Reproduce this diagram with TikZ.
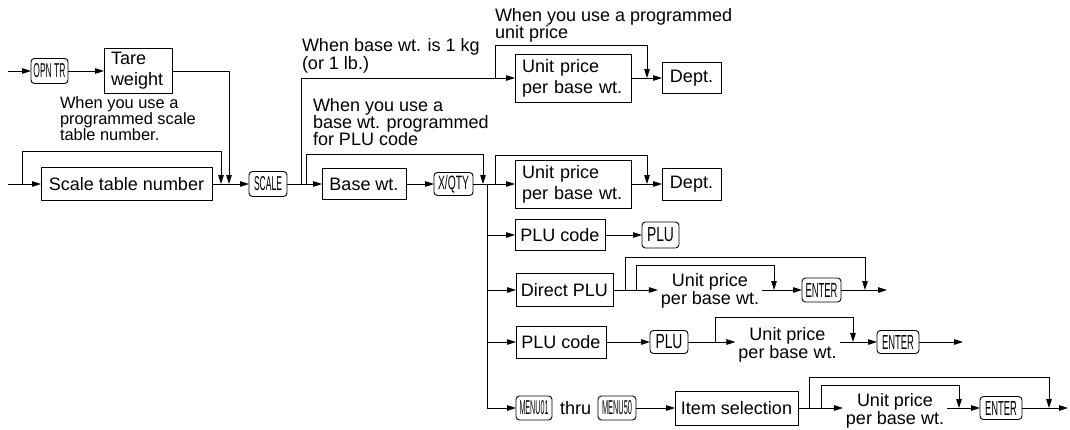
\documentclass[tikz,border=0pt]{standalone}
\usepackage{fontspec}
\usepackage{graphicx}
\setmainfont{Liberation Sans}
\usetikzlibrary{arrows.meta}
\newcommand\kt[2]{\resizebox{#1pt}{14pt}{#2}}
\begin{document}
\begin{tikzpicture}[x=1pt,y=-1pt,
  every node/.style={inner sep=0pt, outer sep=0pt},
  ln/.style={line width=1pt},
  arr/.style={line width=1pt, -{Triangle[length=9pt,width=5.5pt]}},
  box/.style={draw, line width=1pt, font=\fontsize{18}{21}\selectfont},
  mbox/.style={box, align=left, text width=#1, inner xsep=7pt},
  keyb/.style={draw, line width=0.9pt, rounded corners=3.5pt},
  lbl/.style={align=left, anchor=north west, font=\fontsize{18}{17}\selectfont},
  upt/.style={align=center, font=\fontsize{18}{18}\selectfont, inner xsep=3pt},
  plain/.style={font=\fontsize{18}{18}\selectfont}
]
\useasboundingbox (0,0) rectangle (1070,429);

% nodes
\node[keyb, minimum width=37pt, minimum height=25pt] (opn) at (49.5,71) {\kt{32}{OPN TR}};
\node[mbox=54pt, minimum height=45pt] (tare) at (138,71) {Tare\\weight};
\node[box, minimum width=171pt, minimum height=33pt] (stn) at (126.5,184) {Scale table number};
\node[keyb, minimum width=38pt, minimum height=25pt] (scale) at (268,184) {\kt{28}{SCALE}};
\node[box, minimum width=84pt, minimum height=31pt] (basewt) at (364,184) {Base wt.};
\node[keyb, minimum width=39pt, minimum height=23pt] (xqty) at (453.5,184) {\kt{31}{X/QTY}};

\node[mbox=102pt, minimum height=48pt] (up1) at (573,78) {Unit price\\per base wt.};
\node[box, minimum width=59pt, minimum height=31pt] (dept1) at (691.5,78) {Dept.};
\node[mbox=102pt, minimum height=48pt] (up2) at (573,184) {Unit price\\per base wt.};
\node[box, minimum width=59pt, minimum height=32pt] (dept2) at (691.5,184) {Dept.};

\node[box, minimum width=90pt, minimum height=31pt] (plub1) at (560,235) {PLU code};
\node[keyb, minimum width=37pt, minimum height=26pt] (pluk1) at (660.5,235) {\kt{27}{PLU}};

\node[box, minimum width=97pt, minimum height=33pt] (direct) at (564.5,290) {Direct PLU};
\node[upt] (t4) at (710,291) {Unit price\\per base wt.};
\node[keyb, minimum width=39pt, minimum height=24pt] (enter1) at (821.5,290) {\kt{32}{ENTER}};
\coordinate (e4) at (887,290);

\node[box, minimum width=90pt, minimum height=32pt] (plub2) at (561,342) {PLU code};
\node[keyb, minimum width=38pt, minimum height=23pt] (pluk2) at (669,342) {\kt{27}{PLU}};
\node[upt] (t5) at (787.5,344.5) {Unit price\\per base wt.};
\node[keyb, minimum width=42pt, minimum height=23pt] (enter2) at (898,342) {\kt{32}{ENTER}};
\coordinate (e5) at (963,342);

\node[keyb, minimum width=36pt, minimum height=24pt] (m01) at (534,408) {\kt{29}{MENU01}};
\node[plain] (thru) at (575.5,408) {thru};
\node[keyb, minimum width=38pt, minimum height=24pt] (m50) at (617,408) {\kt{30}{MENU50}};
\node[box, minimum width=123pt, minimum height=34pt] (item) at (736.5,408) {Item selection};
\node[upt] (t6) at (895,411) {Unit price\\per base wt.};
\node[keyb, minimum width=42pt, minimum height=23pt] (enter3) at (1001,408) {\kt{32}{ENTER}};
\coordinate (e6) at (1068,408);

% labels
\node[lbl] (a0) at (495,8) {When you use a programmed\\unit price};
\node[lbl, font=\fontsize{18}{18}\selectfont] (a1) at (302,38) {When base wt. is 1 kg\\(or 1 lb.)};
\node[lbl] (a2) at (313,98) {When you use a\\base wt. programmed\\for PLU code};
\node[lbl, font=\fontsize{16.4}{16}\selectfont] (a3) at (60,97) {When you use a\\programmed scale\\table number.};

% connectors
\coordinate (s0) at (8,71);
\draw[arr] (s0) -- (opn.west);
\draw[arr] (opn.east) -- (tare.west);
\coordinate (jt) at (229,184);
\draw[arr] (tare.east) -| (jt);

\coordinate (s1) at (8,184);
\coordinate (l0) at (22,184);
\coordinate (jl) at (221,184);
\draw[arr] (s1) -- (stn.west);
\draw[arr] (l0) -- (22,151) -| (jl);
\draw[arr] (stn.east) -- (scale.west);
\draw[arr] (scale.east) -- (basewt.west);

\coordinate (b1) at (301,184);
\draw[arr] (b1) |- (up1.west);
\coordinate (b2) at (306,184);
\coordinate (jx) at (483,184);
\draw[arr] (b2) -- (306,154) -| (jx);
\draw[arr] (basewt.east) -- (xqty.west);

\coordinate (tr) at (487,184);
\draw[arr] (xqty.east) -- (tr) |- (m01.west);

% row 1
\coordinate (r1) at (495,78);
\coordinate (d1) at (647,78);
\draw[arr] (r1) -- (495,45) -| (d1);
\draw[arr] (up1.east) -- (dept1.west);

% row 2
\draw[arr] (tr) -- (up2.west);
\coordinate (r2) at (495,184);
\coordinate (d2) at (647,184);
\draw[arr] (r2) -- (495,155) -| (d2);
\draw[arr] (up2.east) -- (dept2.west);

% row 3
\draw[arr] (tr |- plub1.west) -- (plub1.west);
\draw[arr] (plub1.east) -- (pluk1.west);

% row 4
\draw[arr] (tr |- direct.west) -- (direct.west);
\draw[arr] (direct.east) -- (direct.east -| t4.west);
\coordinate (r4a) at (625,290);
\coordinate (d4a) at (865,290);
\coordinate (r4b) at (636,290);
\coordinate (d4b) at (774,290);
\draw[arr] (r4a) -- (625,257) -| (d4a);
\draw[arr] (r4b) -- (636,265) -| (d4b);
\draw[arr] (t4.east |- enter1.west) -- (enter1.west);
\draw[arr] (enter1.east) -- (e4);

% row 5
\draw[arr] (tr |- plub2.west) -- (plub2.west);
\draw[arr] (plub2.east) -- (pluk2.west);
\draw[arr] (pluk2.east) -- (pluk2.east -| t5.west);
\coordinate (r5) at (715,342);
\coordinate (d5) at (853,342);
\draw[arr] (r5) -- (715,317) -| (d5);
\draw[arr] (t5.east |- enter2.west) -- (enter2.west);
\draw[arr] (enter2.east) -- (e5);

% row 6
\draw[arr] (m50.east) -- (item.west);
\draw[arr] (item.east) -- (item.east -| t6.west);
\coordinate (r6a) at (809,408);
\coordinate (d6a) at (1049,408);
\coordinate (r6b) at (821,408);
\coordinate (d6b) at (959,408);
\draw[arr] (r6a) -- (809,377) -| (d6a);
\draw[arr] (r6b) -- (821,385) -| (d6b);
\draw[arr] (t6.east |- enter3.west) -- (enter3.west);
\draw[arr] (enter3.east) -- (e6);
\end{tikzpicture}
\end{document}
